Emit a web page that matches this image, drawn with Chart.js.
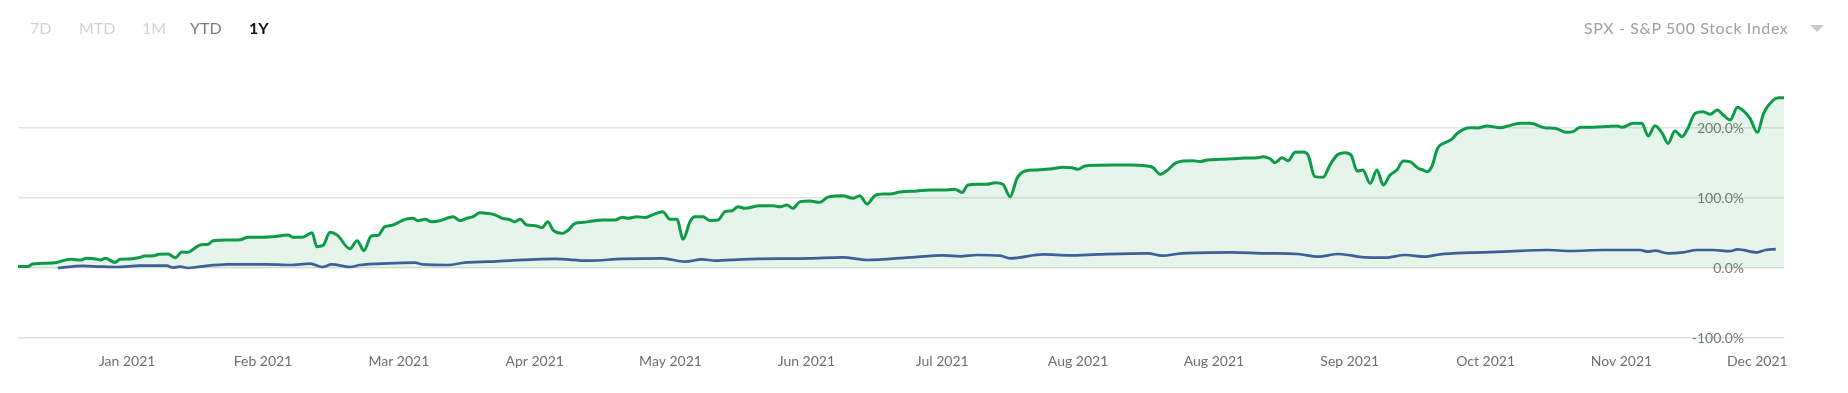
<!DOCTYPE html>
<html>
<head>
<meta charset="utf-8">
<script src="https://cdn.jsdelivr.net/npm/chart.js@4.4.1/dist/chart.umd.min.js"></script>
<style>
  html, body { margin: 0; padding: 0; background: #fff; width: 1848px; height: 393px; overflow: hidden; font-family: Lato, "Open Sans", sans-serif; }
  #wrap { position: relative; width: 1848px; height: 393px; }
  canvas { position: absolute; left: 0; top: 0; }
  .btn { position: absolute; top: 18px; font-size: 16px; line-height: 20px; }
  #sel { position: absolute; top: 18px; left: 1584px; font-size: 16px; line-height: 20px; color: #a0a0a0; letter-spacing: 0.6px; }
  #caret { position: absolute; left: 1810px; top: 25px; width: 0; height: 0; border-left: 7px solid transparent; border-right: 7px solid transparent; border-top: 7px solid #c8c8c8; }
</style>
</head>
<body>
<div id="wrap">
  <canvas id="c" width="1848" height="393"></canvas>
  <div class="btn" style="left:30px;color:#d2d2d2">7D</div>
  <div class="btn" style="left:79px;color:#d2d2d2">MTD</div>
  <div class="btn" style="left:142px;color:#d2d2d2">1M</div>
  <div class="btn" style="left:190px;color:#7a7a7a">YTD</div>
  <div class="btn" style="left:249px;color:#111;font-weight:bold">1Y</div>
  <div id="sel">SPX - S&amp;P 500 Stock Index</div>
  <div id="caret"></div>
</div>
<script>
// Day offsets (0 = start of the 1Y window) and cumulative return in %
const portfolioDays = [0,2,3,5,8,9,11,13,14,16,17,18,20,21,23,25,26,28,29,31,31.5,32.4,33.8,35,36.1,37.5,39.2,40.2,43.1,45.8,47.4,50.5,52.6,55.7,56.7,58.5,59.6,60.6,61.6,62.9,64.3,65.8,68.4,69.9,71.3,72.8,74.2,75.6,77.1,78.3,79.8,81.4,82.4,83.9,85.3,87,88.4,89.7,91.1,92.5,93.8,95.2,96.9,98.3,99.8,101.4,102.4,103.5,104.9,106.6,108,109.2,110.3,112.1,113.4,114.8,116.5,118.3,120.4,123.1,124.5,125.7,127.6,129.2,130.7,132.9,134.4,135.8,137.1,138.5,139.5,141.2,142.6,144.3,145.7,147.2,148.4,149.8,152.9,155.6,157.1,158.5,159.7,161.2,163.2,165.3,166.8,168.4,170,172.1,173.5,175,176.6,178.3,179.7,181.8,185.3,187.9,190.7,193.1,194.6,195.8,197.7,199.7,201.4,203,204.5,205.9,207.6,210,212.7,215.4,217.2,218.5,219.9,222.6,226.1,229.6,232.3,233.9,235.4,236.8,238.5,240.1,242.2,243.6,245.1,247.8,250.2,252.9,255.6,256.6,258.1,259.1,260.5,261.8,263.2,264.9,265.9,267.3,269,270.4,271.9,273.5,274.8,276,277.2,278.7,280.1,281.4,282.8,284.2,285.5,286.9,288.6,289.6,290.4,291.4,292.6,294.1,295.5,296.8,299.3,300.9,302.8,305.5,307.1,309.6,311.7,314.7,316.8,319.3,320.5,322,324.6,327.5,329.6,330.6,332.9,334.7,336,337.4,338.9,340.1,341.5,343,344,345.7,347.3,348.8,350.2,351.5,352.9,354.4,355.6,357,358.5,359.8,361.8,362.9,364];
const portfolioValues = [2,2,5.7,6.7,8,10,12.4,11.4,13.8,13,11.4,13.8,8,12.4,13,15,17,17.6,19.5,20,18,14.8,22.8,22.5,26.7,32.9,34,39,40,40.5,43.8,43.8,44.8,47,43.8,43.8,47,50.5,30.5,32.4,51,47,27.6,39,24.8,45.7,46.7,59,61,64.8,69.5,71,67.6,69.5,66,67.6,71,73.3,67.6,71,73.3,79,78,76,71,69,66,69.5,61.4,60.5,57.6,66,54,49.5,54,63.8,65.2,67,68.6,68.6,72.4,71,73.3,72,75.7,80.5,69.5,69.5,41,66,73.3,73.3,68,68.6,80.5,81.9,87.6,85.2,89,89,87.6,90,85.2,94.8,95.7,93.8,101,102.8,103.3,99.5,103.3,91.4,103.3,105.7,105.7,108.6,110,111.4,111.4,112.4,108,118.6,119.5,119.5,121.9,119.5,101.9,128,138.6,140,141.4,143.8,143.3,141,145.7,146.7,147,147,146,143.8,133.8,139,149.5,152.8,153.3,152,154.3,155.2,156,157,157.6,159,156,150.5,157.6,153.3,165.2,165.7,161.4,130.5,129.5,147,161.4,164.8,161,138.6,140,121,140,118.6,132.9,140,152.8,152,142.4,140,137.6,144.8,171,179,183.8,193.3,200.4,200,202.8,200.4,202.9,206.7,206.7,200.4,199.5,193.8,194.8,201,201,202,202.9,201,206.7,206.7,188.6,203.3,192.4,178,195.7,187.6,197,221,223.3,219.5,225.7,218.6,211.4,229.5,224.8,213.8,193.8,221,240,243.3,243.3];

const spxDays = [8.2,13.4,16.9,20.4,25.1,30.7,31.9,33.4,35,37.5,43.1,51.3,56.1,60.2,62.7,64.7,68.4,70.5,76.3,81.8,83.3,88.6,92.1,96.9,110.7,117.5,124.5,132.7,137.5,141,143.7,149.4,163.2,170,175,183.9,190.7,194.2,197.7,202.4,204.5,211.3,216.8,222.6,232.9,235.8,239.9,250.2,257,263.8,268,272.1,277.6,281.8,285.9,290,293.1,299.3,306.1,315.2,319.9,326.7,334.3,336,337.4,340.1,343.2,346.1,349.4,352.9,354.4,358.5,360.2,362.3];
const spxValues = [0,2.9,2,1.4,3.3,3.3,0.5,2,0,2,5.2,5.2,4.3,6.2,1.4,5.2,1.4,4.3,6.7,7.6,5.2,4.3,7.6,9,12.9,10.5,12.9,13.8,9,12.4,10.5,12.4,13.8,15.2,11.4,15.2,18.1,16.7,18.6,17.6,13.8,19.5,18.1,19.5,21,17.6,21,22.4,21,20,16.2,20,15.2,14.8,18.6,16.2,19.5,21.9,23.3,25.7,24.3,25.7,25.7,23.3,24.8,21,22.4,25.7,25.7,24,26.7,22.4,25.7,26.9];

const xTickDays = [22.5,50.5,78.5,106.5,134.5,162.5,190.5,218.5,246.5,274.5,302.5,330.5,358.5];
const xTickLabels = ['Jan 2021','Feb 2021','Mar 2021','Apr 2021','May 2021','Jun 2021','Jul 2021','Aug 2021','Aug 2021','Sep 2021','Oct 2021','Nov 2021','Dec 2021'];
const yTickValues = [-100, 0, 100, 200];

const toPoints = (xs, ys) => xs.map((x, i) => ({ x: x, y: ys[i] }));

new Chart(document.getElementById('c'), {
  type: 'line',
  data: {
    datasets: [
      {
        label: 'Portfolio',
        data: toPoints(portfolioDays, portfolioValues),
        borderColor: '#0e9b47',
        backgroundColor: 'rgba(16,160,72,0.11)',
        borderWidth: 3,
        fill: 'origin',
        pointRadius: 0,
        cubicInterpolationMode: 'monotone',
        order: 2
      },
      {
        label: 'SPX - S&P 500 Stock Index',
        data: toPoints(spxDays, spxValues),
        borderColor: '#3f5f98',
        borderWidth: 2.7,
        fill: false,
        pointRadius: 0,
        cubicInterpolationMode: 'monotone',
        order: 1
      }
    ]
  },
  options: {
    responsive: false,
    devicePixelRatio: 1,
    animation: false,
    layout: { padding: { left: 18, right: 24, top: 72, bottom: 0 } },
    plugins: { legend: { display: false }, tooltip: { enabled: false } },
    scales: {
      x: {
        type: 'linear',
        min: 0,
        max: 364,
        afterBuildTicks: (s) => { s.ticks = xTickDays.map(v => ({ value: v })); },
        afterFit: (s) => { s.height = 55; },
        grid: { display: false, drawTicks: false },
        border: { display: false },
        ticks: {
          autoSkip: false,
          maxRotation: 0,
          padding: 15,
          color: '#6e6e6e',
          font: { family: 'Lato', size: 14 },
          callback: (v, i) => xTickLabels[i]
        }
      },
      y: {
        position: 'right',
        min: -100,
        max: 280,
        afterBuildTicks: (s) => { s.ticks = yTickValues.map(v => ({ value: v })); },
        afterFit: (s) => { s.width = 40; },
        grid: {
          drawTicks: false,
          color: (ctx) => (ctx.tick && ctx.tick.value === -100) ? '#d8e0ef' : '#e3e3e3',
          lineWidth: 1.5
        },
        border: { display: false },
        ticks: {
          mirror: true,
          padding: -40,
          color: '#777',
          font: { family: 'Lato', size: 14 },
          callback: (v) => Number(v).toFixed(1) + '%'
        }
      }
    }
  }
});
</script>
</body>
</html>
